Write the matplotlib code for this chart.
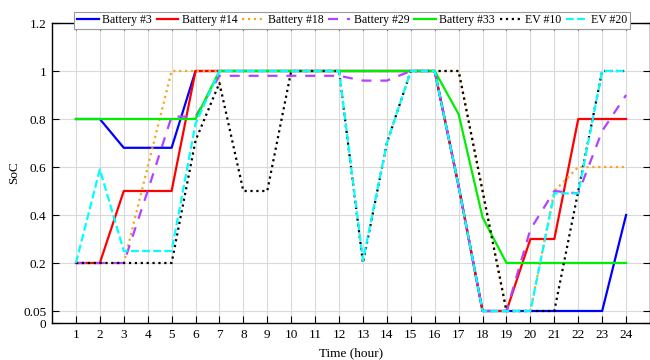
import numpy as np
import matplotlib.pyplot as plt
from matplotlib.scale import FuncScale

plt.rcParams['font.family'] = ['Liberation Serif', 'DejaVu Serif']
plt.rcParams['font.size'] = 9.5

hours = np.arange(1, 25)

bat3 = [0.8, 0.8, 0.68, 0.68, 0.68, 1, 1, 1, 1, 1, 1, 1, 1, 1, 1, 1,
        0.52, 0.05, 0.05, 0.05, 0.05, 0.05, 0.05, 0.4]
bat14 = [0.2, 0.2, 0.5, 0.5, 0.5, 1, 1, 1, 1, 1, 1, 1, 1, 1, 1, 1,
         0.52, 0.05, 0.05, 0.3, 0.3, 0.8, 0.8, 0.8]
bat18 = [0.2, 0.2, 0.2, 0.6, 1, 1, 1, 1, 1, 1, 1, 1, 1, 1, 1, 1,
         1, 0.5, 0.05, 0.05, 0.5, 0.6, 0.6, 0.6]
bat29 = [0.2, 0.2, 0.2, 0.5, 0.81, 0.81, 0.98, 0.98, 0.98, 0.98, 0.98, 0.98,
         0.96, 0.96, 1, 1, 0.52, 0.05, 0.05, 0.34, 0.5, 0.49, 0.75, 0.9]
bat33 = [0.8, 0.8, 0.8, 0.8, 0.8, 0.8, 1, 1, 1, 1, 1, 1, 1, 1, 1, 1,
         0.82, 0.39, 0.2, 0.2, 0.2, 0.2, 0.2, 0.2]
ev10 = [0.2, 0.2, 0.2, 0.2, 0.2, 0.71, 0.95, 0.5, 0.5, 1, 1, 1, 0.2, 0.7,
        1, 1, 1, 0.5, 0.05, 0.05, 0.05, 0.5, 1, 1]
ev20 = [0.2, 0.59, 0.25, 0.25, 0.25, 0.78, 1, 1, 1, 1, 1, 1, 0.21, 0.7,
        1, 1, 0.52, 0.05, 0.05, 0.05, 0.49, 0.49, 1, 1]

# stretched bottom of the SoC axis so that 0.05 gets its own band
v_knots = [-1, 0, 0.05, 0.2, 2]
p_knots = [-1.05, -0.05, 0, 0.2, 2]

def fwd(v):
    return np.interp(v, v_knots, p_knots)

def inv(p):
    return np.interp(p, p_knots, v_knots)

fig = plt.figure(figsize=(6.5, 3.6), dpi=100)
ax = fig.add_axes([52/650, 37/360, 598/650, 300/360])
ax.set_yscale(FuncScale(ax, (fwd, inv)))

ax.plot(hours, bat3, color='#0000ff', lw=1.6, label='Battery #3')
ax.plot(hours, bat14, color='#ff0000', lw=1.6, label='Battery #14')
ax.plot(hours, bat18, color='#f5a623', lw=1.6, ls=':', label='Battery #18')
ax.plot(hours, bat29, color='#b341ff', lw=1.6, ls=(0, (4.5, 4)), label='Battery #29')
ax.plot(hours, bat33, color='#00ee00', lw=1.6, label='Battery #33')
ax.plot(hours, ev10, color='black', lw=1.6, ls=':', label='EV #10')
ax.plot(hours, ev20, color='#00ffff', lw=1.6, ls=(0, (3.5, 1.5)), label='EV #20')

ax.set_xlim(0, 25)
ax.set_ylim(0, 1.2)
ax.set_xticks(hours)
yt = [0, 0.05, 0.2, 0.4, 0.6, 0.8, 1, 1.2]
ax.set_yticks(yt)
ax.set_yticklabels(['0', '0.05', '0.2', '0.4', '0.6', '0.8', '1', '1.2'])
ax.minorticks_off()
ax.tick_params(direction='in', length=5, width=0.8, right=True, top=True,
               color='black', labelsize=9.5, pad=4)
ax.grid(True, color='#d9d9d9', lw=0.8)
ax.set_axisbelow(True)
for s in ax.spines.values():
    s.set_linewidth(1.0)

ax.set_xlabel('Time (hour)', fontsize=9.5, labelpad=5)
ax.set_ylabel('SoC', fontsize=9.5, labelpad=2)

leg = ax.legend(loc='upper center', bbox_to_anchor=(0.502, 1.037), ncol=7,
                fontsize=8.5, frameon=True, fancybox=False, framealpha=1,
                edgecolor='#999999', handlelength=1.85, handletextpad=0.3,
                columnspacing=0.4, borderpad=0.2, borderaxespad=0)
leg.get_frame().set_linewidth(0.8)

fig.savefig('out.png', dpi=100)
